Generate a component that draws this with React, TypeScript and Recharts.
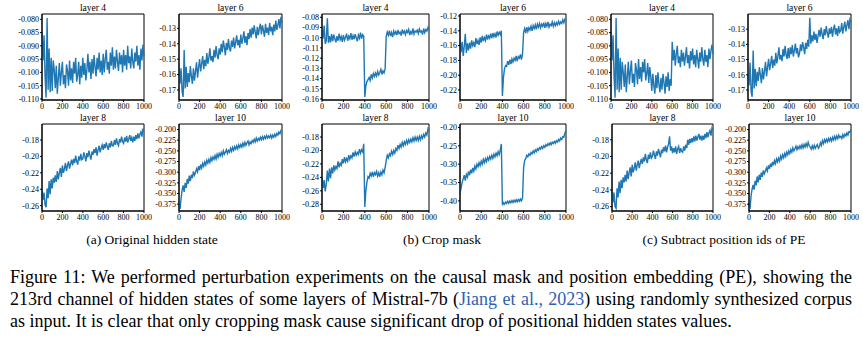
import React from "react";
import { LineChart, Line, XAxis, YAxis, ReferenceArea } from "recharts";

const xTicks = [0, 200, 400, 600, 800, 1000];

// hidden-state values in units of 1e-4, sampled every 10 tokens (0..1000)
const origL4 = [-845, -955, -860, -1015, -1095, -795, -1065, -910, -1075, -945,
  -1070, -955, -990, -1060, -975, -1080, -1020, -965, -1050, -1000,
  -960, -1045, -1010, -1060, -970, -995, -1050, -955, -1030, -985,
  -1040, -960, -1005, -945, -1035, -1010, -960, -1045, -975, -1020,
  -945, -1010, -965, -1030, -990, -930, -1000, -960, -1025, -950,
  -1005, -935, -980, -1015, -945, -990, -925, -1000, -955, -1010,
  -930, -1000, -950, -915, -990, -960, -1005, -925, -975, -905,
  -990, -940, -985, -915, -960, -995, -925, -970, -935, -1000,
  -915, -975, -935, -990, -900, -965, -940, -985, -910, -960,
  -985, -925, -960, -900, -975, -935, -990, -910, -955, -895, -940];
const origL6 = [-1530, -1660, -1560, -1710, -1745, -1440, -1690, -1550, -1680, -1590,
  -1650, -1545, -1610, -1660, -1560, -1640, -1580, -1520, -1620, -1555,
  -1500, -1580, -1530, -1480, -1565, -1505, -1545, -1460, -1530, -1490,
  -1430, -1510, -1480, -1520, -1440, -1490, -1415, -1475, -1500, -1430,
  -1470, -1400, -1455, -1380, -1420, -1475, -1395, -1440, -1370, -1430,
  -1450, -1380, -1420, -1360, -1430, -1390, -1345, -1410, -1375, -1425,
  -1340, -1400, -1365, -1320, -1395, -1350, -1410, -1330, -1370, -1305,
  -1360, -1295, -1340, -1280, -1325, -1365, -1290, -1345, -1300, -1270,
  -1340, -1280, -1315, -1355, -1270, -1330, -1295, -1345, -1265, -1320,
  -1290, -1345, -1275, -1320, -1250, -1310, -1280, -1240, -1300, -1225, -1265];
const origL8 = [-2400, -2530, -2440, -2590, -2620, -2390, -2510, -2300, -2460, -2280,
  -2390, -2260, -2320, -2230, -2310, -2180, -2280, -2200, -2140, -2250,
  -2110, -2200, -2150, -2080, -2180, -2110, -2060, -2150, -2090, -2040,
  -2110, -2030, -2080, -1990, -2060, -2100, -2000, -2050, -1970, -2040,
  -2030, -1950, -2000, -2060, -1960, -2010, -1930, -1990, -2040, -1940,
  -1980, -1910, -1960, -1890, -1990, -1920, -1870, -1950, -1900, -1860,
  -1920, -1850, -1900, -1830, -1880, -1920, -1840, -1890, -1810, -1870,
  -1870, -1800, -1860, -1780, -1840, -1870, -1790, -1830, -1760, -1820,
  -1840, -1770, -1820, -1750, -1830, -1790, -1740, -1810, -1770, -1830,
  -1760, -1810, -1740, -1790, -1720, -1780, -1730, -1700, -1760, -1660, -1700];
const origL10 = [-3780, -3860, -3620, -3420, -3310, -3460, -3250, -3370, -3160, -3270,
  -3080, -3210, -3060, -3140, -2980, -3070, -3010, -2920, -2990, -2860,
  -2950, -2820, -2900, -2790, -2860, -2760, -2830, -2720, -2790, -2700,
  -2770, -2660, -2730, -2640, -2700, -2610, -2690, -2580, -2650, -2560,
  -2620, -2540, -2610, -2500, -2580, -2530, -2470, -2560, -2490, -2530,
  -2440, -2510, -2420, -2490, -2400, -2460, -2380, -2450, -2360, -2420,
  -2350, -2410, -2320, -2390, -2300, -2370, -2310, -2270, -2360, -2290,
  -2330, -2260, -2300, -2230, -2290, -2200, -2270, -2210, -2250, -2180,
  -2240, -2170, -2230, -2160, -2210, -2140, -2200, -2150, -2190, -2130,
  -2200, -2130, -2180, -2110, -2160, -2090, -2130, -2060, -2100, -2020, -2000];

const cropL4 = [-920, -1010, -880, -1060, -1030, -810, -1050, -985, -1045, -965,
  -1035, -970, -1010, -1045, -985, -1030, -960, -1020, -990, -1040,
  -975, -1025, -995, -960, -1030, -985, -1010, -955, -1020, -980,
  -1015, -965, -1000, -1035, -975, -1005, -950, -1010, -970, -985,
  -1580, -1470, -1430, -1410, -1390, -1420, -1360, -1395, -1350, -1380,
  -1345, -1375, -1330, -1365, -1340, -1310, -1360, -1325, -1345, -1305,
  -990, -945, -975, -930, -985, -950, -995, -935, -965, -940,
  -975, -925, -960, -945, -980, -920, -955, -935, -970, -930,
  -950, -920, -975, -940, -960, -910, -965, -935, -945, -925,
  -960, -915, -945, -935, -970, -910, -950, -920, -935, -900, -925];
const cropL6 = [-1520, -1690, -1550, -1740, -1610, -1440, -1700, -1570, -1665, -1560,
  -1640, -1530, -1600, -1560, -1620, -1500, -1580, -1530, -1590, -1490,
  -1560, -1470, -1540, -1490, -1530, -1450, -1520, -1470, -1500, -1440,
  -1500, -1430, -1480, -1440, -1490, -1410, -1460, -1420, -1450, -1400,
  -2280, -2030, -1910, -1870, -1880, -1810, -1860, -1790, -1850, -1780,
  -1820, -1770, -1800, -1740, -1810, -1750, -1770, -1720, -1790, -1710,
  -1420, -1370, -1430, -1350, -1410, -1360, -1390, -1340, -1400, -1330,
  -1370, -1320, -1380, -1310, -1350, -1300, -1360, -1310, -1340, -1290,
  -1360, -1300, -1340, -1280, -1350, -1310, -1330, -1280, -1340, -1290,
  -1330, -1290, -1320, -1270, -1310, -1280, -1300, -1250, -1290, -1240, -1250];
const cropL8 = [-2400, -2560, -2440, -2610, -2500, -2300, -2460, -2270, -2410, -2250,
  -2340, -2220, -2290, -2240, -2270, -2160, -2250, -2190, -2220, -2130,
  -2190, -2100, -2170, -2120, -2160, -2070, -2130, -2080, -2110, -2030,
  -2090, -2020, -2070, -2030, -2060, -1980, -2040, -1990, -2020, -1900,
  -2840, -2600, -2470, -2390, -2410, -2340, -2380, -2320, -2390, -2330,
  -2360, -2310, -2380, -2330, -2390, -2320, -2360, -2290, -2330, -2250,
  -2150, -2070, -2110, -2050, -2080, -2010, -2060, -2000, -2040, -1970,
  -2000, -1920, -1970, -1910, -1950, -1880, -1930, -1870, -1910, -1850,
  -1900, -1840, -1880, -1830, -1870, -1810, -1860, -1800, -1850, -1800,
  -1850, -1790, -1840, -1780, -1820, -1760, -1800, -1740, -1770, -1680, -1720];
const cropL10 = [-3800, -3650, -3500, -3400, -3300, -3450, -3280, -3350, -3200, -3300,
  -3150, -3250, -3100, -3190, -3050, -3130, -3000, -3070, -2960, -3040,
  -2920, -3000, -2870, -2960, -2850, -2930, -2820, -2890, -2790, -2860,
  -2760, -2840, -2730, -2800, -2700, -2770, -2660, -2740, -2620, -2450,
  -4120, -4050, -4090, -4030, -4070, -4010, -4060, -4000, -4050, -3990,
  -4040, -3980, -4030, -3970, -4020, -3960, -4010, -3950, -4000, -3920,
  -3100, -2900, -2850, -2760, -2800, -2720, -2760, -2680, -2720, -2640,
  -2690, -2610, -2660, -2580, -2620, -2550, -2590, -2520, -2570, -2500,
  -2540, -2470, -2510, -2440, -2480, -2420, -2470, -2400, -2440, -2380,
  -2430, -2360, -2400, -2330, -2370, -2290, -2330, -2250, -2260, -2150, -2080];

const subL4 = [-845, -955, -860, -1015, -1095, -795, -1065, -910, -1075, -945,
  -1065, -960, -1000, -1055, -970, -1075, -1015, -960, -1045, -995,
  -955, -1040, -1005, -1055, -965, -990, -1045, -950, -1025, -980,
  -1035, -960, -1000, -950, -1030, -1005, -965, -1040, -980, -1015,
  -1070, -1005, -1050, -1080, -1010, -1060, -1000, -1045, -1075, -1020,
  -1065, -1005, -1040, -1080, -1015, -1055, -1000, -1070, -1025, -1050,
  -885, -955, -915, -975, -930, -900, -965, -940, -980, -915,
  -960, -925, -975, -940, -905, -965, -935, -985, -920, -955,
  -910, -970, -935, -980, -915, -950, -985, -925, -960, -905,
  -950, -975, -915, -960, -935, -980, -910, -950, -920, -895, -930];
const subL6 = [-1600, -1670, -1520, -1710, -1745, -1440, -1690, -1560, -1675, -1580,
  -1640, -1550, -1600, -1655, -1555, -1630, -1575, -1515, -1610, -1550,
  -1495, -1570, -1525, -1475, -1555, -1500, -1540, -1455, -1525, -1480,
  -1420, -1500, -1470, -1510, -1430, -1480, -1410, -1470, -1495, -1425,
  -1490, -1420, -1465, -1405, -1480, -1440, -1395, -1460, -1425, -1485,
  -1460, -1400, -1445, -1385, -1420, -1465, -1390, -1430, -1370, -1415,
  -1225, -1395, -1340, -1380, -1315, -1370, -1330, -1390, -1345, -1305,
  -1350, -1290, -1335, -1365, -1300, -1340, -1280, -1325, -1355, -1295,
  -1330, -1285, -1350, -1300, -1270, -1335, -1295, -1345, -1280, -1320,
  -1310, -1260, -1330, -1285, -1250, -1315, -1275, -1240, -1300, -1235, -1250];
const subL8 = [-2400, -2550, -2430, -2600, -2620, -2380, -2490, -2300, -2440, -2280,
  -2380, -2250, -2310, -2220, -2300, -2170, -2270, -2190, -2130, -2240,
  -2100, -2190, -2140, -2070, -2170, -2100, -2050, -2140, -2080, -2030,
  -2090, -2010, -2060, -1970, -2040, -2080, -1980, -2030, -1950, -2020,
  -2000, -1930, -1980, -2030, -1940, -1990, -1910, -1960, -2010, -1920,
  -1960, -1890, -1940, -1870, -1950, -1890, -1850, -1760, -1930, -1880,
  -1960, -1900, -1950, -1880, -1970, -1910, -1880, -1960, -1900, -1940,
  -1950, -1880, -1930, -1860, -1900, -1800, -1860, -1790, -1840, -1780,
  -1830, -1760, -1820, -1750, -1810, -1770, -1730, -1800, -1750, -1810,
  -1750, -1800, -1730, -1780, -1710, -1770, -1720, -1690, -1750, -1660, -1690];
const subL10 = [-3720, -3860, -3560, -3400, -3300, -3410, -3200, -3310, -3100, -3240,
  -3060, -3180, -3010, -3110, -2960, -3040, -2980, -2900, -2970, -2840,
  -2920, -2800, -2880, -2760, -2840, -2730, -2800, -2690, -2760, -2670,
  -2740, -2620, -2690, -2590, -2660, -2560, -2630, -2530, -2590, -2500,
  -2560, -2470, -2530, -2430, -2500, -2450, -2390, -2470, -2400, -2450,
  -2380, -2440, -2360, -2430, -2350, -2410, -2330, -2400, -2300, -2380,
  -2410, -2460, -2380, -2450, -2370, -2440, -2390, -2350, -2440, -2400,
  -2310, -2370, -2260, -2330, -2240, -2300, -2230, -2290, -2210, -2270,
  -2200, -2270, -2180, -2240, -2160, -2230, -2150, -2210, -2130, -2190,
  -2160, -2210, -2120, -2180, -2110, -2150, -2080, -2130, -2050, -2060, -2000];

const ticksL4a = [-0.11, -0.105, -0.1, -0.095, -0.09, -0.085, -0.08];
const ticksL6a = [-0.17, -0.16, -0.15, -0.14, -0.13];
const ticksL8a = [-0.26, -0.24, -0.22, -0.2, -0.18];
const ticksL10a = [-0.375, -0.35, -0.325, -0.3, -0.275, -0.25, -0.225, -0.2];
const ticksL4b = [-0.16, -0.15, -0.14, -0.13, -0.12, -0.11, -0.1, -0.09, -0.08];
const ticksL6b = [-0.22, -0.2, -0.18, -0.16, -0.14, -0.12];
const ticksL8b = [-0.28, -0.26, -0.24, -0.22, -0.2, -0.18];
const ticksL10b = [-0.4, -0.35, -0.3, -0.25, -0.2];

const toData = (vals: number[]) => vals.map((v, i) => ({ x: i * 10, y: v / 10000 }));

const FONT = "Liberation Serif";
const BLUE = "#1f77b4";

type PanelProps = {
  left: number; top: number; w: number; h: number;
  vals: number[]; domain: [number, number]; ticks: number[]; dec: number; title: string;
};

function Panel({ left, top, w, h, vals, domain, ticks, dec, title }: PanelProps) {
  const data = toData(vals);
  const padL = 45, padT = 14, padB = 20, padR = 8;
  const tickStyle = { fontSize: 8, fill: "#000", fontFamily: FONT };
  return (
    <>
      <div style={{ position: "absolute", left, top: top - 11, width: w, textAlign: "center",
        fontFamily: FONT, fontSize: 9.5, lineHeight: "10px", color: "#000" }}>{title}</div>
      <div style={{ position: "absolute", left: left - padL, top: top - padT }}>
        <LineChart width={w + padL + padR} height={h + padT + padB} data={data}
          margin={{ top: padT, right: padR, bottom: 0, left: 0 }}>
          <XAxis dataKey="x" type="number" domain={[0, 1000]} ticks={xTicks} interval={0}
            height={padB} tickSize={2} tickMargin={1} tick={tickStyle}
            axisLine={{ stroke: "#000" }} tickLine={{ stroke: "#000" }} />
          <YAxis type="number" domain={domain} ticks={ticks} interval={0} width={padL}
            tickSize={2} tickMargin={1} tick={tickStyle} allowDataOverflow
            tickFormatter={(v: number) => v.toFixed(dec)}
            axisLine={{ stroke: "#000" }} tickLine={{ stroke: "#000" }} />
          <Line type="linear" dataKey="y" stroke={BLUE} strokeWidth={1.4} dot={false}
            isAnimationActive={false} />
          <ReferenceArea x1={0} x2={1000} y1={domain[0]} y2={domain[1]} fill="none"
            fillOpacity={0} stroke="#000" strokeWidth={1} ifOverflow="extendDomain" />
        </LineChart>
      </div>
    </>
  );
}

const capStyle: React.CSSProperties = {
  position: "absolute", fontFamily: FONT, fontSize: 13.5, color: "#000",
  whiteSpace: "nowrap", transform: "translateX(-50%)", top: 232,
};
const lineStyle: React.CSSProperties = {
  position: "absolute", left: 10, width: 842, fontFamily: FONT, fontSize: 18,
  lineHeight: "22px", color: "#000", whiteSpace: "nowrap",
};

export default function App() {
  return (
    <div style={{ position: "absolute", left: 0, top: 0, width: 863, height: 337, background: "#fff", overflow: "hidden" }}>
      <Panel left={42} top={14} w={102} h={86} vals={origL4} domain={[-0.1104, -0.078]} ticks={ticksL4a} dec={3} title="layer 4" />
      <Panel left={179} top={14} w={103} h={86} vals={origL6} domain={[-0.1765, -0.1207]} ticks={ticksL6a} dec={2} title="layer 6" />
      <Panel left={42} top={124} w={102} h={87} vals={origL8} domain={[-0.2665, -0.1605]} ticks={ticksL8a} dec={2} title="layer 8" />
      <Panel left={179} top={124} w={103} h={87} vals={origL10} domain={[-0.391, -0.187]} ticks={ticksL10a} dec={3} title="layer 10" />

      <Panel left={322} top={14} w={107} h={86} vals={cropL4} domain={[-0.161, -0.0768]} ticks={ticksL4b} dec={2} title="layer 4" />
      <Panel left={460} top={14} w={106} h={86} vals={cropL6} domain={[-0.2335, -0.1173]} ticks={ticksL6b} dec={2} title="layer 6" />
      <Panel left={322} top={124} w={107} h={87} vals={cropL8} domain={[-0.29, -0.1606]} ticks={ticksL8b} dec={2} title="layer 8" />
      <Panel left={460} top={124} w={106} h={87} vals={cropL10} domain={[-0.4274, -0.1907]} ticks={ticksL10b} dec={2} title="layer 10" />

      <Panel left={611} top={14} w={102} h={86} vals={subL4} domain={[-0.1104, -0.078]} ticks={ticksL4a} dec={3} title="layer 4" />
      <Panel left={748} top={14} w={103} h={86} vals={subL6} domain={[-0.1766, -0.12]} ticks={ticksL6a} dec={2} title="layer 6" />
      <Panel left={612} top={124} w={101} h={87} vals={subL8} domain={[-0.2652, -0.1612]} ticks={ticksL8a} dec={2} title="layer 8" />
      <Panel left={749} top={124} w={102} h={87} vals={subL10} domain={[-0.391, -0.187]} ticks={ticksL10a} dec={3} title="layer 10" />

      <div style={{ ...capStyle, left: 152 }}>(a) Original hidden state</div>
      <div style={{ ...capStyle, left: 442 }}>(b) Crop mask</div>
      <div style={{ ...capStyle, left: 724 }}>(c) Subtract position ids of PE</div>

      <div style={{ ...lineStyle, top: 266, textAlign: "justify", textAlignLast: "justify" }}>
        Figure 11: We performed perturbation experiments on the causal mask and position embedding (PE), showing the
      </div>
      <div style={{ ...lineStyle, top: 288, textAlign: "justify", textAlignLast: "justify" }}>
        213rd channel of hidden states of some layers of Mistral-7b (<span style={{ color: "#2d5fb5" }}>Jiang et al., 2023</span>) using randomly synthesized corpus
      </div>
      <div style={{ ...lineStyle, top: 310 }}>
        as input. It is clear that only cropping mask cause significant drop of positional hidden states values.
      </div>
    </div>
  );
}
